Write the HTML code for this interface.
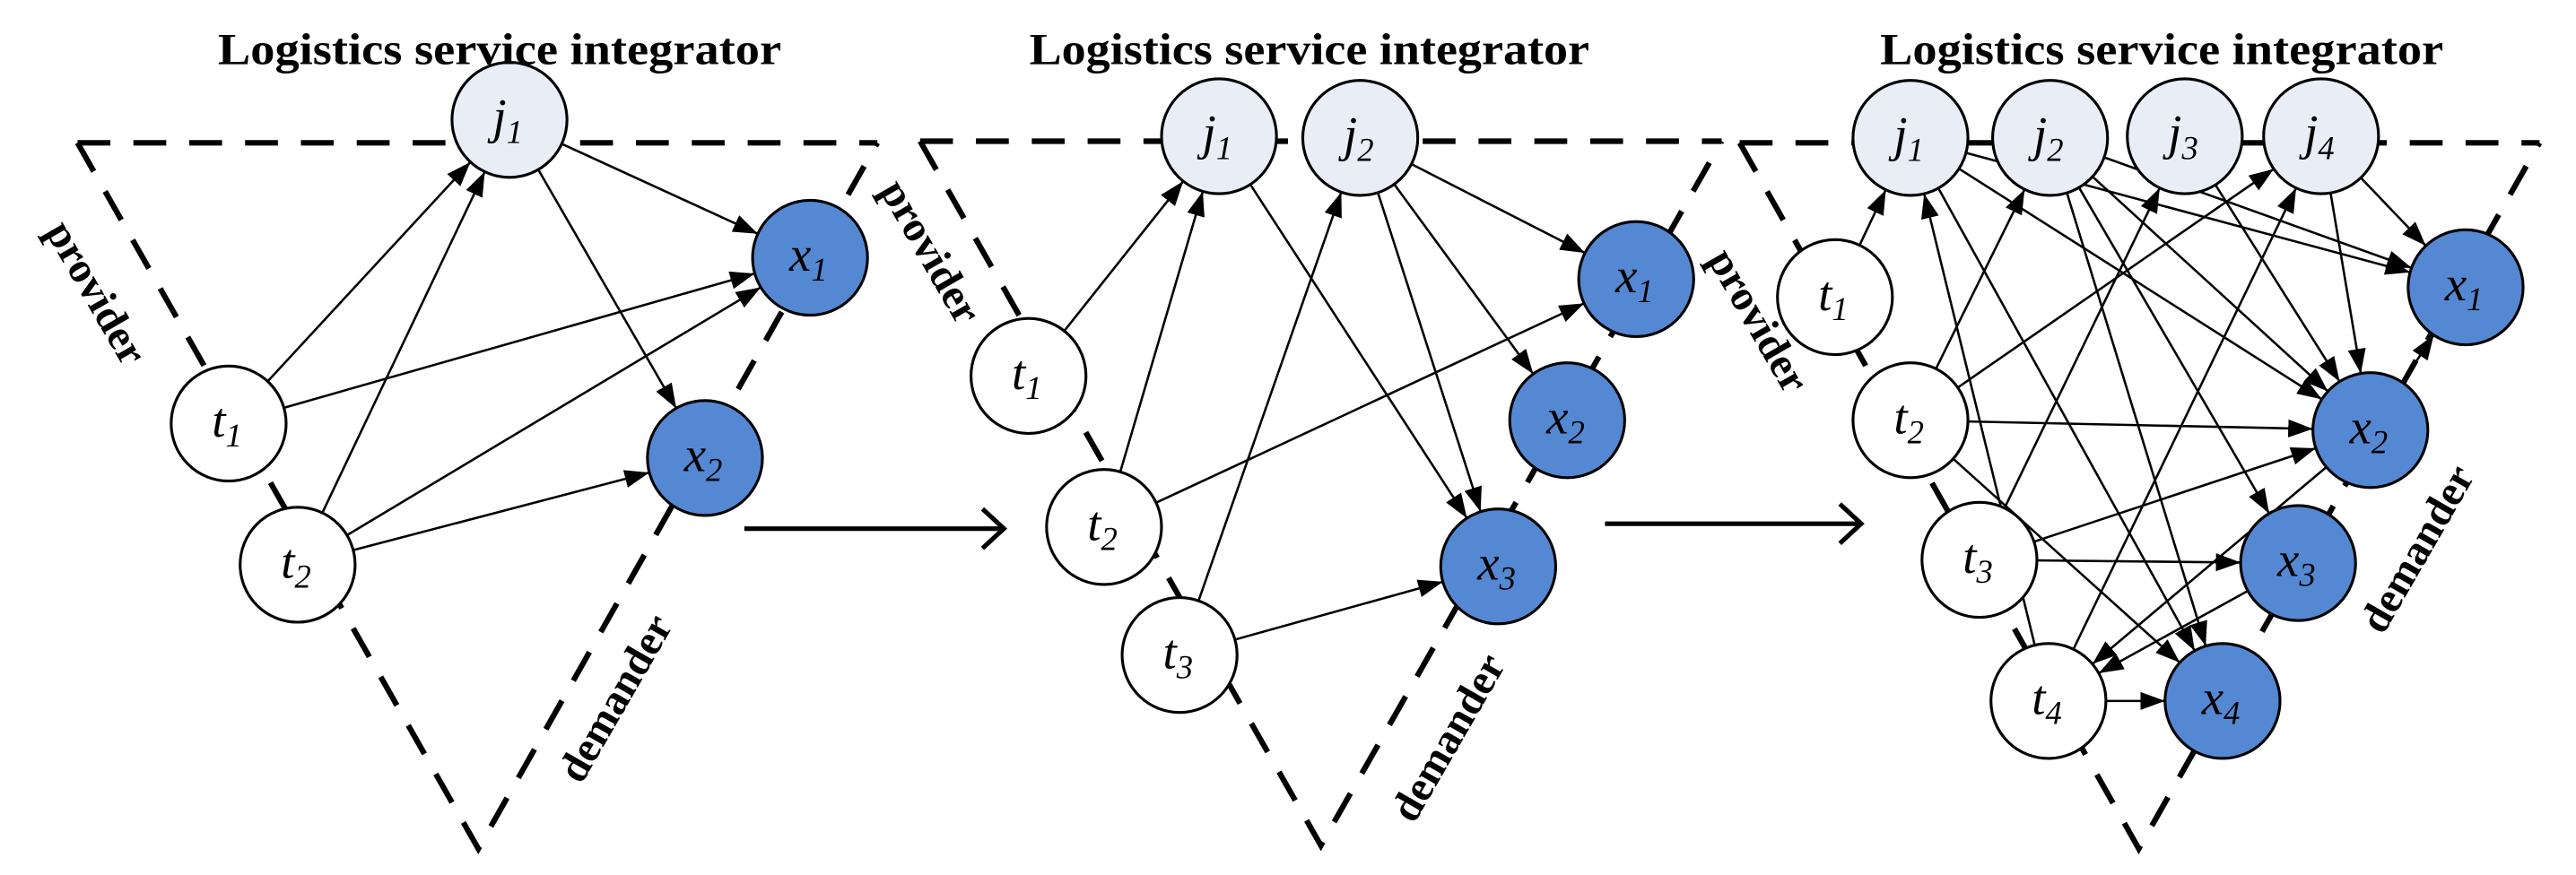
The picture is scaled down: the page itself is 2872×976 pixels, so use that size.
<!DOCTYPE html>
<html><head><meta charset="utf-8"><style>
html,body{margin:0;padding:0;background:#fff;}
svg{display:block;}
.t{font-family:"Liberation Serif",serif;font-weight:bold;font-size:27px;}
.l{font-family:"Liberation Serif",serif;font-style:italic;font-size:30px;}
</style></head><body>
<svg id="s" width="2872" height="976" viewBox="0 0 1568 533" xmlns="http://www.w3.org/2000/svg">
<defs>
<marker id="a" viewBox="0 0 10 10" refX="10" refY="5" markerWidth="15" markerHeight="11" markerUnits="userSpaceOnUse" orient="auto-start-reverse" preserveAspectRatio="none"><path d="M0,0L10,5L0,10z" fill="#000"/></marker>
</defs>
<g fill="none" stroke="#000" stroke-width="3.4" stroke-dasharray="20,14">
<polyline points="47,87 534,87"/><polyline points="47,87 291,517 534,87"/>
<polyline points="560,86 1048,86"/><polyline points="560,86 804,515 1048,86"/>
<polyline points="1059,87 1546,87"/><polyline points="1059,87 1302,517 1546,87"/>
</g>
<g stroke="#000" stroke-width="2.8" fill="none">
<line x1="453" y1="322" x2="610" y2="322"/><polyline points="598,310 611,322 598,334"/>
<line x1="977" y1="319" x2="1132" y2="319"/><polyline points="1120,307 1133,319 1120,331"/>
</g>
<g id="edges" stroke="#000" stroke-width="1.4"></g>
<g id="nodes" stroke="#000" stroke-width="1.7"></g>
<g class="t" text-anchor="middle">
<text x="304" y="39" textLength="343" lengthAdjust="spacingAndGlyphs">Logistics service integrator</text>
<text x="797" y="39" textLength="341" lengthAdjust="spacingAndGlyphs">Logistics service integrator</text>
<text x="1316" y="39" textLength="343" lengthAdjust="spacingAndGlyphs">Logistics service integrator</text>
<text transform="translate(59,178) rotate(60)" y="9" font-size="26">provider</text>
<text transform="translate(567,153) rotate(60)" y="9" font-size="26">provider</text>
<text transform="translate(1071,195) rotate(60)" y="9" font-size="26">provider</text>
<text transform="translate(374,425) rotate(-60)" y="9" font-size="26">demander</text>
<text transform="translate(881,449) rotate(-60)" y="9" font-size="26">demander</text>
<text transform="translate(1471,334) rotate(-60)" y="9" font-size="26">demander</text>
</g>
<g id="labels" class="l" text-anchor="middle"></g>
</svg>
<script>
var N={
p1:{t1:[139,258,'w'],t2:[181,344,'w'],j1:[310,73,'j'],x1:[493,157,'x'],x2:[429,279,'x']},
p2:{t1:[626,229,'w'],t2:[672,321,'w'],t3:[718,399,'w'],j1:[742,83,'j'],j2:[828,84,'j'],x1:[996,170,'x'],x2:[954,256,'x'],x3:[912,345,'x']},
p3:{t1:[1117,181,'w'],t2:[1163,256,'w'],t3:[1205,341,'w'],t4:[1247,427,'w'],j1:[1163,84,'j'],j2:[1248,84,'j'],j3:[1330,83,'j'],j4:[1413,83,'j'],x1:[1501,175,'x'],x2:[1443,262,'x'],x3:[1399,343,'x'],x4:[1353,427,'x']}
};
var E={
p1:['t1-j1','t1-x1','t2-j1','t2-x1','t2-x2','j1-x1','j1-x2'],
p2:['t1-j1','t2-j1','t2-x1','t3-j2','t3-x3','j1-x3','j2-x1','j2-x2','j2-x3'],
p3:['t1-j1','t2-j2','t2-j4','t2-x2','t2-x4','t3-j3','t3-x2','t3-x3','t4-j1','t4-j4','t4-x4','j1-x1','j1-x2','j1-x4','j2-x1','j2-x2','j2-x3','j2-x4','j3-x2','j4-x1','j4-x2','x2-x1','x2-t4','x3-t4']
};
var R=35,ns="http://www.w3.org/2000/svg";
var eg=document.getElementById('edges'),ng=document.getElementById('nodes'),lg=document.getElementById('labels');
function el(n,a,p){var e=document.createElementNS(ns,n);for(var k in a)e.setAttribute(k,a[k]);p.appendChild(e);return e;}
for(var p in E){E[p].forEach(function(s){var q=s.split('-'),A=N[p][q[0]],B=N[p][q[1]];
var dx=B[0]-A[0],dy=B[1]-A[1],d=Math.sqrt(dx*dx+dy*dy),ux=dx/d,uy=dy/d;
el('line',{x1:A[0]+ux*R,y1:A[1]+uy*R,x2:B[0]-ux*R,y2:B[1]-uy*R,'marker-end':'url(#a)'},eg);});}
for(var p in N){for(var k in N[p]){var c=N[p][k];
el('circle',{cx:c[0],cy:c[1],r:R,fill:c[2]=='x'?'#5588D2':(c[2]=='j'?'#E9EEF6':'#fff')},ng);
var t=el('text',{x:c[0]-1,y:c[1]+8},lg);t.textContent=k[0];
var s=el('tspan',{'font-size':'20',dy:'6'},t);s.textContent=k[1];}}
</script>
</body></html>
